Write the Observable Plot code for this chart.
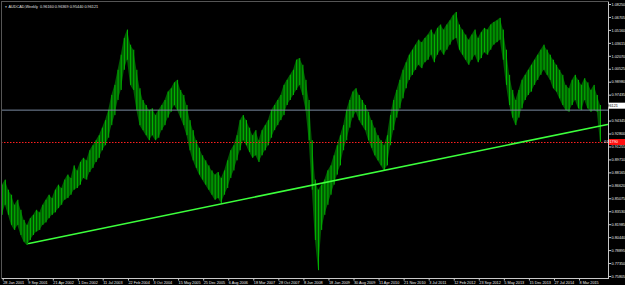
<!DOCTYPE html>
<html><head><meta charset="utf-8">
<script src="https://cdn.jsdelivr.net/npm/d3@7"></script>
<script src="https://cdn.jsdelivr.net/npm/@observablehq/plot@0.6"></script>
<style>html,body{margin:0;padding:0;background:#000;overflow:hidden} svg{display:block}</style>
</head><body><div id="chart"></div>
<script>
const symbol = "AUDCAD,Weekly";
const lastOHLC = ["0.96160", "0.96369", "0.95440", "0.96121"];
const firstBar = "2001-01-28";
const sampleWeeks = 4;
const hi = [0.867,0.873,0.861,0.855,0.843,0.849,0.837,0.825,0.819,0.827,
0.831,0.837,0.834,0.843,0.849,0.855,0.851,0.861,0.867,0.863,
0.873,0.879,0.875,0.890,0.884,0.894,0.899,0.896,0.908,0.914,
0.920,0.926,0.935,0.944,0.956,0.974,0.986,1.004,1.022,1.042,
1.052,1.034,1.028,1.004,0.982,0.968,0.962,0.956,0.958,0.950,
0.956,0.962,0.968,0.978,0.982,0.989,0.992,0.980,0.974,0.962,
0.944,0.932,0.920,0.911,0.902,0.896,0.890,0.884,0.879,0.882,
0.875,0.884,0.896,0.908,0.914,0.926,0.944,0.950,0.944,0.935,
0.926,0.932,0.920,0.932,0.938,0.944,0.956,0.962,0.968,0.974,
0.986,0.992,0.998,1.004,1.016,1.018,1.010,0.992,0.968,0.920,
0.873,0.861,0.867,0.873,0.884,0.890,0.902,0.914,0.926,0.938,
0.956,0.968,0.978,0.982,0.974,0.968,0.962,0.954,0.944,0.935,
0.926,0.920,0.914,0.926,0.950,0.968,0.980,0.992,1.004,1.013,
1.022,1.028,1.034,1.040,1.037,1.042,1.046,1.052,1.046,1.054,
1.058,1.052,1.058,1.063,1.069,1.073,1.058,1.052,1.046,1.040,
1.046,1.052,1.042,1.049,1.054,1.052,1.058,1.061,1.063,1.066,
1.052,1.028,0.998,0.980,0.968,0.980,0.992,0.998,1.004,1.010,
1.016,1.022,1.028,1.034,1.028,1.022,1.016,1.010,1.004,0.998,
0.986,0.982,0.992,0.998,0.992,0.986,0.994,0.989,0.980,0.986,
0.974,0.962];
const lo = [0.831,0.843,0.831,0.819,0.813,0.819,0.807,0.799,0.795,0.801,
0.807,0.811,0.813,0.819,0.822,0.827,0.831,0.834,0.839,0.843,
0.849,0.851,0.855,0.861,0.863,0.867,0.875,0.873,0.882,0.887,
0.894,0.899,0.908,0.914,0.923,0.938,0.950,0.968,0.980,1.004,
1.016,0.986,0.980,0.956,0.938,0.932,0.926,0.920,0.926,0.920,
0.923,0.932,0.938,0.947,0.954,0.962,0.956,0.947,0.938,0.926,
0.908,0.896,0.887,0.879,0.873,0.867,0.861,0.855,0.849,0.851,
0.845,0.855,0.863,0.875,0.884,0.896,0.908,0.920,0.914,0.906,
0.899,0.902,0.894,0.902,0.908,0.914,0.923,0.932,0.938,0.944,
0.950,0.962,0.968,0.974,0.980,0.986,0.974,0.956,0.920,0.861,
0.801,0.765,0.813,0.831,0.843,0.855,0.867,0.879,0.890,0.908,
0.920,0.935,0.947,0.954,0.944,0.938,0.932,0.920,0.911,0.902,
0.896,0.890,0.884,0.890,0.914,0.932,0.947,0.958,0.970,0.982,
0.992,0.998,1.004,1.010,1.006,1.013,1.016,1.022,1.013,1.022,
1.028,1.022,1.028,1.034,1.040,1.042,1.028,1.022,1.016,1.010,
1.016,1.022,1.013,1.018,1.025,1.022,1.028,1.034,1.037,1.040,
1.016,0.986,0.962,0.947,0.938,0.947,0.958,0.968,0.974,0.978,
0.986,0.992,0.998,1.004,0.998,0.992,0.982,0.978,0.970,0.962,
0.956,0.954,0.962,0.968,0.958,0.956,0.968,0.958,0.954,0.956,
0.954,0.918];
const priceTicks = [0.75805,0.77350,0.78895,0.80440,0.81985,0.83530,0.85075,0.86620,0.88165,0.89710,0.91255,0.92800,0.94345,0.95890,0.97435,0.98980,1.00525,1.02070,1.03615,1.05160,1.06705,1.08250];
const dateLabels = ["28 Jan 2001","9 Sep 2001","21 Apr 2002","1 Dec 2002","11 Jul 2003","22 Feb 2004","3 Oct 2004","15 May 2005","25 Dec 2005","6 Aug 2006","18 Mar 2007","28 Oct 2007","8 Jun 2008","18 Jan 2009","30 Aug 2009","11 Apr 2010","21 Nov 2010","3 Jul 2011","12 Feb 2012","23 Sep 2012","5 May 2013","15 Dec 2013","27 Jul 2014","8 Mar 2015"];
const trendDates = ["2001-09-23", "2015-11-22"];
const trendPrices = [0.7974, 0.9394];
const grayLevel = 0.9565;
const redLevel = 0.9179;
const lastPrice = 0.96121;
const xDomain = ["2001-01-28", "2015-11-22"];
const yDomain = [0.75805, 1.0825];

const parseIso = d3.utcParse("%Y-%m-%d");
const parseLbl = d3.utcParse("%e %b %Y");
const t0 = parseIso(firstBar);
const bars = hi.map((h, i) => ({date: d3.utcWeek.offset(t0, i * sampleWeeks), hi: h, lo: lo[i]}));
const tickDates = dateLabels.map(s => parseLbl(s));
const trend = trendDates.map((d, i) => ({date: parseIso(d), price: trendPrices[i]}));
const font = "Liberation Sans, Arial, sans-serif";

const plot = Plot.plot({
  width: 625, height: 285,
  marginLeft: 1, marginTop: 1, marginRight: 17, marginBottom: 7,
  style: {background: "#000", color: "#fff", fontFamily: font, overflow: "visible"},
  x: {type: "utc", domain: xDomain.map(parseIso), range: [1.7, 607]},
  y: {domain: yDomain, range: [276, 4]},
  marks: [
    Plot.areaY(bars, {x: "date", y1: "lo", y2: "hi", fill: "#005a00"}),
    Plot.ruleX(bars, {x: "date", y1: "lo", y2: "hi", stroke: "#00b800", strokeWidth: 1}),
    Plot.ruleY([grayLevel], {stroke: "#7a8aa0", strokeWidth: 1}),
    Plot.ruleY([redLevel], {stroke: "#ff2020", strokeWidth: 1, strokeDasharray: "1.5,1.5"}),
    Plot.line(trend, {x: "date", y: "price", stroke: "#3cff3c", strokeWidth: 1.6}),
    Plot.axisY({anchor: "right", ticks: priceTicks.filter(v => Math.abs(v - lastPrice) > 0.005),
      tickFormat: d => d.toFixed(5), tickSize: 2, tickPadding: 1, fontSize: 3.8,
      fill: "#e8e8e8", stroke: "#c8c8c8", label: null}),
    Plot.axisX({anchor: "bottom", ticks: tickDates, tickFormat: (d, i) => dateLabels[i],
      textAnchor: "start", dx: 1, tickSize: 2.5, tickPadding: 0.5, fontSize: 3.8,
      fill: "#e8e8e8", stroke: "#c8c8c8", label: null}),
    Plot.frame({anchor: "right", stroke: "#c8c8c8"}),
    Plot.frame({anchor: "bottom", stroke: "#c8c8c8"}),
    Plot.frame({anchor: "left", stroke: "#555"}),
    Plot.frame({anchor: "top", stroke: "#555"}),
    Plot.text([symbol + "  " + lastOHLC.join(" ")], {frameAnchor: "top-left", dx: 7, dy: 4, textAnchor: "start", fill: "#e0e0e0", fontSize: 3.8}),
    Plot.text(["▼"], {frameAnchor: "top-left", dx: 3, dy: 4, fill: "#bbb", fontSize: 3})
  ]
});

const y = plot.scale("y");
const svg = d3.select(plot);
const boxes = [{v: lastPrice, bg: "#ffffff", fg: "#000"}, {v: redLevel, bg: "#ff1010", fg: "#fff"}];
for (const b of boxes) {
  const yy = y.apply(b.v);
  svg.append("rect").attr("x", 609).attr("y", yy - 3).attr("width", 16).attr("height", 6).attr("fill", b.bg);
  svg.append("text").attr("x", 611).attr("y", yy).attr("dy", "0.35em").attr("font-size", 3.8)
    .attr("font-family", font).attr("fill", b.fg).text(b.v.toFixed(5));
}
document.getElementById("chart").append(plot);
</script>
</body></html>
